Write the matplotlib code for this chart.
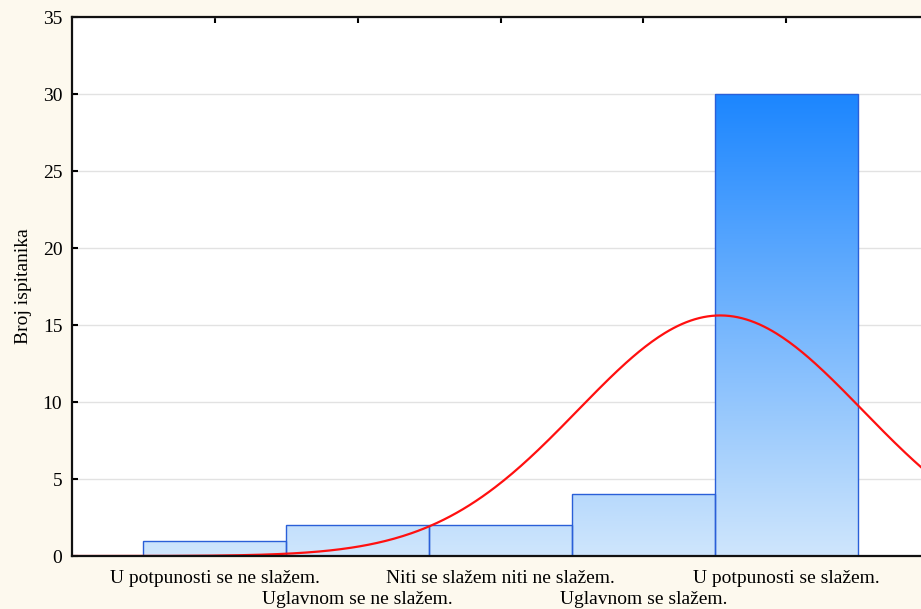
import numpy as np
import matplotlib
matplotlib.use("Agg")
import matplotlib.pyplot as plt
from matplotlib.patches import Rectangle
from matplotlib.colors import LinearSegmentedColormap

# Likert answers and number of respondents per answer
categories = [
    "U potpunosti se ne slažem.",
    "Uglavnom se ne slažem.",
    "Niti se slažem niti ne slažem.",
    "Uglavnom se slažem.",
    "U potpunosti se slažem.",
]
scores = [1, 2, 3, 4, 5]
counts = [1, 2, 2, 4, 30]
y_ticks = [0, 5, 10, 15, 20, 25, 30, 35]

plt.rcParams["font.family"] = ["Liberation Serif", "DejaVu Serif"]
FS = 14

fig = plt.figure(figsize=(9.21, 6.09), dpi=100, facecolor="#fdf9ee")
ax = fig.add_axes([0.0782, 0.0870, 0.9305, 0.885])
ax.set_facecolor("white")

# vertical gradient for the bars, keyed to the y value
cmap = LinearSegmentedColormap.from_list("barfill", ["#cfe6fc", "#1c86ff"])
grad = np.linspace(0, 1, 256).reshape(-1, 1)
for s, c in zip(scores, counts):
    x0 = s - 0.5
    rect = Rectangle((x0, 0), 1, c, facecolor="none", edgecolor="#2a5fd8",
                     linewidth=1.0, zorder=3)
    ax.add_patch(rect)
    img = ax.imshow(grad, extent=(x0, x0 + 1, 0, 30), origin="lower",
                    cmap=cmap, aspect="auto", zorder=2, interpolation="bilinear")
    img.set_clip_path(rect)
ax.set_xlim(0, 6)
ax.set_ylim(0, 35)

# fitted normal curve scaled to the counts
vals = np.repeat(scores, counts)
n = len(vals)
mu = vals.mean()
sd = vals.std(ddof=1)
xs = np.linspace(0, 6, 400)
ys = n * 1.0 / (sd * np.sqrt(2 * np.pi)) * np.exp(-0.5 * ((xs - mu) / sd) ** 2)
ax.plot(xs, ys, color="#ff1010", linewidth=1.6, zorder=4)

ax.set_yticks(y_ticks)
ax.yaxis.grid(True, color="#e2e2e2", linewidth=1.0, zorder=0)
ax.set_axisbelow(True)

# odd answers on the first row, even answers on a second row
ax.set_xticks(scores[0::2])
ax.set_xticklabels(categories[0::2], fontsize=FS)
ax.set_xticks(scores[1::2], minor=True)
ax.set_xticklabels(categories[1::2], minor=True, fontsize=FS)

ax.tick_params(axis="both", which="both", direction="in", length=4, width=1.5,
               colors="black", labelsize=FS, top=True)
ax.tick_params(axis="x", which="major", pad=10)
ax.tick_params(axis="x", which="minor", pad=25)
ax.tick_params(axis="y", pad=7)

for side in ["left", "top", "bottom", "right"]:
    ax.spines[side].set_linewidth(1.6)
    ax.spines[side].set_color("#111111")
    ax.spines[side].set_zorder(5)

ax.set_ylabel("Broj ispitanika", fontsize=FS, labelpad=8)

fig.savefig("out.png", dpi=100, facecolor=fig.get_facecolor())
